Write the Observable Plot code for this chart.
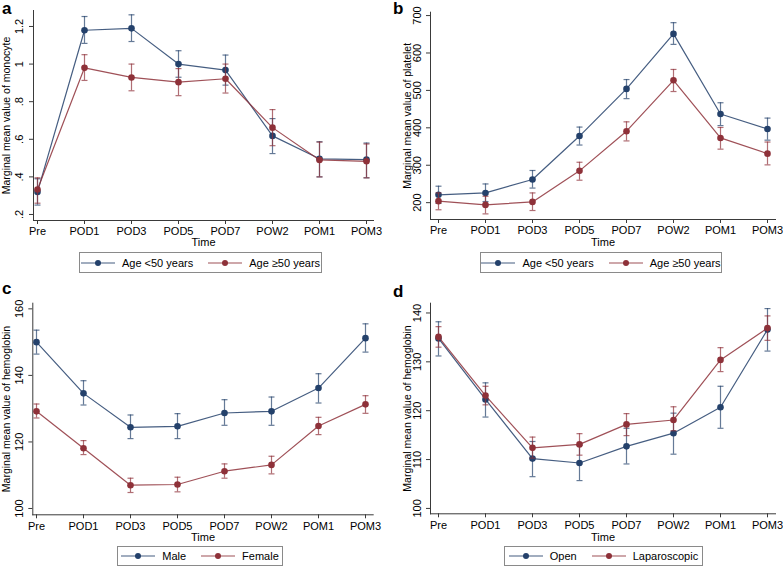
<!DOCTYPE html>
<html>
<head>
<meta charset="utf-8">
<script src="https://cdn.jsdelivr.net/npm/d3@7"></script>
<script src="https://cdn.jsdelivr.net/npm/@observablehq/plot@0.6"></script>
<style>
  html, body { margin: 0; padding: 0; background: #fff; }
  #root { position: relative; width: 783px; height: 567px; font-family: "Liberation Sans", Arial, sans-serif; color: #000; overflow: hidden; }
  .panel { position: absolute; }
  .letter { position: absolute; font-weight: bold; font-size: 17px; line-height: 17px; }
  .legend { position: absolute; border: 1px solid #8a8a8a; box-sizing: border-box; display: flex; align-items: center; justify-content: center; gap: 15px; font-size: 11px; }
  .legend .item { display: flex; align-items: center; gap: 7px; white-space: nowrap; }
</style>
</head>
<body>
<div id="root"></div>
<script>
// ---------- data ----------
const times = ["Pre", "POD1", "POD3", "POD5", "POD7", "POW2", "POM1", "POM3"];

// a: monocyte by age
const monoYoung   = [0.320, 1.180, 1.190, 1.000, 0.968, 0.618, 0.496, 0.492];
const monoYoungLo = [0.250, 1.110, 1.120, 0.930, 0.888, 0.524, 0.400, 0.395];
const monoYoungHi = [0.390, 1.253, 1.262, 1.071, 1.048, 0.710, 0.587, 0.580];
const monoOld     = [0.333, 0.980, 0.929, 0.904, 0.922, 0.662, 0.490, 0.483];
const monoOldLo   = [0.260, 0.913, 0.858, 0.832, 0.846, 0.566, 0.400, 0.395];
const monoOldHi   = [0.395, 1.050, 1.000, 0.976, 1.000, 0.758, 0.585, 0.575];
const monoTicks = [0.2, 0.4, 0.6, 0.8, 1, 1.2];
const monoTickLabels = [".2", ".4", ".6", ".8", "1", "1.2"];

// b: platelet by age
const pltYoung   = [221, 226, 262, 378, 504, 651, 437, 397];
const pltYoungLo = [198, 203, 239, 354, 478, 623, 406, 367];
const pltYoungHi = [244, 250, 286, 402, 529, 681, 467, 426];
const pltOld     = [204, 194, 202, 285, 391, 527, 373, 331];
const pltOldLo   = [181, 170, 179, 260, 365, 497, 343, 301];
const pltOldHi   = [226, 217, 226, 308, 416, 556, 401, 362];
const pltTicks = [200, 300, 400, 500, 600, 700];
const pltTickLabels = ["200", "300", "400", "500", "600", "700"];

// c: hemoglobin by sex
const hbMale     = [150.0, 134.6, 124.4, 124.7, 128.7, 129.2, 136.2, 151.2];
const hbMaleLo   = [146.4, 131.1, 121.0, 121.0, 125.0, 125.0, 131.7, 147.0];
const hbMaleHi   = [153.6, 138.4, 128.1, 128.5, 132.7, 133.5, 140.5, 155.5];
const hbFemale   = [129.2, 118.1, 107.0, 107.2, 111.2, 113.1, 124.8, 131.3];
const hbFemaleLo = [127.2, 116.2, 104.8, 105.0, 109.1, 110.4, 122.2, 128.6];
const hbFemaleHi = [131.4, 120.4, 109.1, 109.4, 113.4, 115.7, 127.4, 133.9];
const hbSexTicks = [100, 120, 140, 160];
const hbSexTickLabels = ["100", "120", "140", "160"];

// d: hemoglobin by surgery type
const hbOpen   = [134.8, 122.3, 110.2, 109.3, 112.7, 115.4, 120.7, 136.6];
const hbOpenLo = [131.2, 118.7, 106.5, 105.7, 109.1, 111.1, 116.4, 132.2];
const hbOpenHi = [138.2, 125.7, 113.7, 112.9, 116.4, 119.5, 125.0, 140.9];
const hbLap    = [135.1, 123.1, 112.4, 113.1, 117.2, 118.1, 130.4, 136.9];
const hbLapLo  = [133.0, 121.2, 110.3, 110.9, 114.9, 115.9, 128.0, 134.4];
const hbLapHi  = [137.2, 125.0, 114.6, 115.3, 119.4, 120.8, 132.9, 139.4];
const hbSurgTicks = [100, 110, 120, 130, 140];
const hbSurgTickLabels = ["100", "110", "120", "130", "140"];

const NAVY = "#24416b";
const MAROON = "#8e3139";
const AXIS = "#3a3a3a";

// ---------- helpers ----------
const capSymbol = { draw(ctx) { ctx.moveTo(-3, 0); ctx.lineTo(3, 0); } };

function rows(mean, lo, hi, group) {
  return times.map((t, i) => ({ time: t, mean: mean[i], lo: lo[i], hi: hi[i], group }));
}

function seriesMarks(data, color) {
  return [
    Plot.ruleX(data, { x: "time", y1: "lo", y2: "hi", stroke: color, strokeOpacity: 0.7, strokeWidth: 1.2 }),
    Plot.dot(data, { x: "time", y: "lo", symbol: capSymbol, stroke: color, strokeOpacity: 0.7, strokeWidth: 1.2, fill: "none", r: 3 }),
    Plot.dot(data, { x: "time", y: "hi", symbol: capSymbol, stroke: color, strokeOpacity: 0.7, strokeWidth: 1.2, fill: "none", r: 3 }),
    Plot.line(data, { x: "time", y: "mean", stroke: color, strokeWidth: 1.2, strokeOpacity: 0.85 }),
    Plot.dot(data, { x: "time", y: "mean", fill: color, r: 3.3 })
  ];
}

function makePanel(cfg) {
  const root = document.getElementById("root");
  const wrap = document.createElement("div");
  wrap.className = "panel";
  wrap.style.left = cfg.left + "px";
  wrap.style.top = cfg.top + "px";
  wrap.style.width = cfg.width + "px";
  wrap.style.height = cfg.height + "px";

  const chart = Plot.plot({
    width: cfg.width,
    height: cfg.height,
    marginTop: cfg.mt, marginBottom: cfg.mb, marginLeft: cfg.ml, marginRight: cfg.mr,
    style: { fontFamily: '"Liberation Sans", Arial, sans-serif', fontSize: "11px", background: "transparent", color: "#000", overflow: "visible" },
    x: { type: "point", domain: times, padding: 0, insetLeft: cfg.il, insetRight: cfg.ir },
    y: { domain: cfg.yDomain },
    marks: [
      Plot.frame({ anchor: "left", stroke: AXIS }),
      Plot.frame({ anchor: "bottom", stroke: AXIS }),
      Plot.axisX({ tickSize: 4, tickPadding: 3, label: null, stroke: AXIS, fill: "#000", fontSize: 11 }),
      Plot.axisY({ ticks: cfg.yTicks, tickSize: 4, tickFormat: () => "", label: null, stroke: AXIS }),
      Plot.text(cfg.yTicks, { y: d => d, frameAnchor: "left", dx: cfg.tickDx, rotate: -90, textAnchor: "middle", lineAnchor: "middle", text: (d, i) => cfg.yTickLabels[i], fontSize: 11, fill: "#000" }),
      Plot.text([cfg.yTitle], { frameAnchor: "left", dx: cfg.titleDx, rotate: -90, textAnchor: "middle", lineAnchor: "middle", text: d => d, fontSize: 10.5, fill: "#000" }),
      Plot.text(["Time"], { frameAnchor: "bottom", dy: cfg.timeDy, textAnchor: "middle", lineAnchor: "middle", text: d => d, fontSize: 11, fill: "#000" }),
      ...cfg.series.flatMap(s => seriesMarks(rows(s.mean, s.lo, s.hi, s.name), s.color))
    ]
  });
  chart.style.position = "absolute";
  chart.style.left = "0px";
  chart.style.top = "0px";
  wrap.appendChild(chart);
  root.appendChild(wrap);

  const letter = document.createElement("div");
  letter.className = "letter";
  letter.textContent = cfg.letter;
  letter.style.left = cfg.letterX + "px";
  letter.style.top = cfg.letterY + "px";
  root.appendChild(letter);

  const leg = document.createElement("div");
  leg.className = "legend";
  leg.style.left = cfg.legend.x + "px";
  leg.style.top = cfg.legend.y + "px";
  leg.style.width = cfg.legend.w + "px";
  leg.style.height = cfg.legend.h + "px";
  cfg.series.forEach(s => {
    const item = document.createElement("div");
    item.className = "item";
    item.innerHTML = `<svg width="34" height="8"><line x1="0" y1="4" x2="34" y2="4" stroke="${s.color}" stroke-width="1.2" stroke-opacity="0.85"/><circle cx="17" cy="4" r="3" fill="${s.color}"/></svg><span>${s.name}</span>`;
    leg.appendChild(item);
  });
  root.appendChild(leg);
}

// ---------- panels ----------
makePanel({
  letter: "a", letterX: 2, letterY: 0,
  left: 0, top: 0, width: 390, height: 250,
  mt: 10, mb: 30, ml: 33, mr: 17, il: 1.7, ir: 5.1,
  yDomain: [0.168, 1.285], yTicks: monoTicks, yTickLabels: monoTickLabels,
  yTitle: "Marginal mean value of monocyte", tickDx: -14, titleDx: -27, timeDy: 22,
  series: [
    { name: "Age <50 years", color: NAVY, mean: monoYoung, lo: monoYoungLo, hi: monoYoungHi },
    { name: "Age \u226550 years", color: MAROON, mean: monoOld, lo: monoOldLo, hi: monoOldHi }
  ],
  legend: { x: 79, y: 252, w: 243, h: 21 }
});

makePanel({
  letter: "b", letterX: 393, letterY: 0,
  left: 390, top: 0, width: 393, height: 250,
  mt: 11.7, mb: 31, ml: 40, mr: 8, il: 5.7, ir: 6,
  yDomain: [155, 709], yTicks: pltTicks, yTickLabels: pltTickLabels,
  yTitle: "Marginal mean value of platelet", tickDx: -13.3, titleDx: -23.3, timeDy: 23,
  series: [
    { name: "Age <50 years", color: NAVY, mean: pltYoung, lo: pltYoungLo, hi: pltYoungHi },
    { name: "Age \u226550 years", color: MAROON, mean: pltOld, lo: pltOldLo, hi: pltOldHi }
  ],
  legend: { x: 480, y: 252, w: 242, h: 21 }
});

makePanel({
  letter: "c", letterX: 2, letterY: 280,
  left: 0, top: 280, width: 390, height: 270,
  mt: 22.7, mb: 35.7, ml: 32.3, mr: 17.3, il: 2, ir: 6,
  yDomain: [98.1, 161.7], yTicks: hbSexTicks, yTickLabels: hbSexTickLabels,
  yTitle: "Marginal mean value of hemoglobin", tickDx: -13, titleDx: -26.3, timeDy: 22.7,
  series: [
    { name: "Male", color: NAVY, mean: hbMale, lo: hbMaleLo, hi: hbMaleHi },
    { name: "Female", color: MAROON, mean: hbFemale, lo: hbFemaleLo, hi: hbFemaleHi }
  ],
  legend: { x: 117, y: 546, w: 166, h: 20 }
});

makePanel({
  letter: "d", letterX: 393, letterY: 283,
  left: 390, top: 280, width: 393, height: 270,
  mt: 22.7, mb: 36.7, ml: 40, mr: 8, il: 5.7, ir: 6,
  yDomain: [98.9, 142], yTicks: hbSurgTicks, yTickLabels: hbSurgTickLabels,
  yTitle: "Marginal mean value of hemoglobin", tickDx: -13.3, titleDx: -23.3, timeDy: 23.7,
  series: [
    { name: "Open", color: NAVY, mean: hbOpen, lo: hbOpenLo, hi: hbOpenHi },
    { name: "Laparoscopic", color: MAROON, mean: hbLap, lo: hbLapLo, hi: hbLapHi }
  ],
  legend: { x: 504, y: 546, w: 199, h: 20 }
});
</script>
</body>
</html>
